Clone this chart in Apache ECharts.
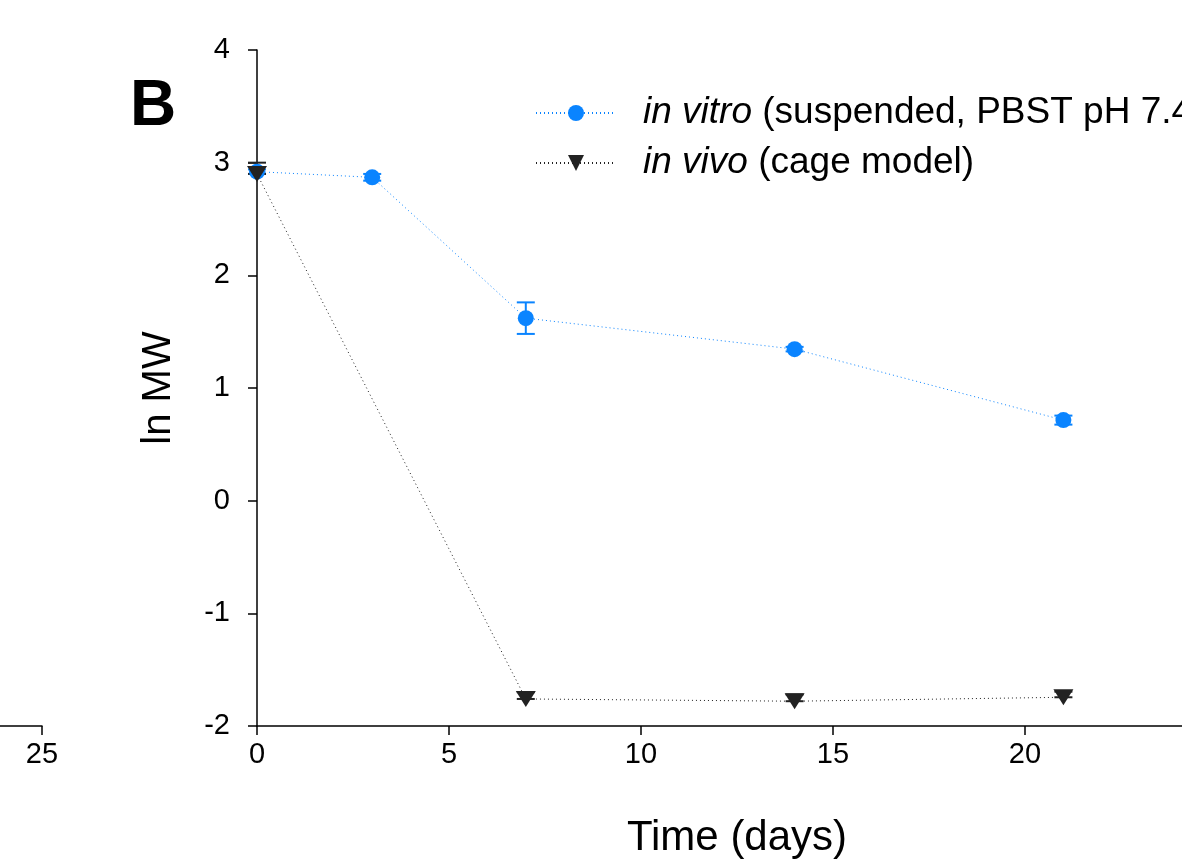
<!DOCTYPE html>
<html><head><meta charset="utf-8">
<script src="https://cdn.jsdelivr.net/npm/echarts@6/dist/echarts.min.js"></script>
<style>html,body{margin:0;padding:0;background:#fff}#c{width:1182px;height:864px}</style>
</head><body><div id="c"></div>
<script>
const vitroDays = [0, 3, 7, 14, 21];
const vitroMean = [2.92, 2.87, 1.62, 1.345, 0.715];
const vitroErrUp  = [0.02, 0.03, 0.14, 0.02, 0.04];
const vitroErrLo  = [0.02, 0.03, 0.14, 0.02, 0.04];
const vivoDays  = [0, 7, 14, 21];
const vivoMean  = [2.90, -1.76, -1.78, -1.745];
const vivoErrUp = [0.10, 0.06, 0.06, 0.05];
const vivoErrLo = [0.00, 0.00, 0.00, 0.00];
const xTicks = [0, 5, 10, 15, 20, 25];
const yTicks = [-2, -1, 0, 1, 2, 3, 4];

const BLUE = '#0a84ff', DARK = '#222222';
const FONT = "'Liberation Sans', Arial, sans-serif";

function pts(xs, ys){ return xs.map((x,i)=>[x, ys[i]]); }
function errs(xs, ys, up, lo){ return xs.map((x,i)=>[x, ys[i]-lo[i], ys[i]+up[i]]); }
function errRender(color){
  return function(params, api){
    const x = api.value(0), lo = api.value(1), hi = api.value(2);
    const a = api.coord([x, hi]), b = api.coord([x, lo]);
    const w = 9;
    const st = {stroke: color, lineWidth: 2};
    return {type:'group', children:[
      {type:'line', shape:{x1:a[0], y1:a[1], x2:b[0], y2:b[1]}, style:st},
      {type:'line', shape:{x1:a[0]-w, y1:a[1], x2:a[0]+w, y2:a[1]}, style:st},
      {type:'line', shape:{x1:b[0]-w, y1:b[1], x2:b[0]+w, y2:b[1]}, style:st}
    ]};
  };
}

const axisLineStyle = {color:'#000', width:1.5};
const chart = echarts.init(document.getElementById('c'));
chart.setOption({
  backgroundColor:'#fff',
  animation:false,
  textStyle:{fontFamily:FONT},
  graphic:[{type:'text', left:130, top:75, style:{text:'B', font:"bold 64px 'Liberation Sans', Arial", fill:'#000'}}],
  legend:{
    orient:'vertical', left:535, top:93, padding:0, itemWidth:80, itemHeight:20, itemGap:10,
    data:['vitro','vivo'],
    formatter: n => n==='vitro' ? '{p|}{i|in vitro} (suspended, PBST pH 7.4)' : '{p|}{i|in vivo} (cage model)',
    textStyle:{fontSize:37, color:'#000', fontFamily:FONT, lineHeight:40,
      rich:{p:{width:22}, i:{fontStyle:'italic', fontSize:37, fontFamily:FONT, color:'#000', lineHeight:40}}}
  },
  grid:[
    {left:257, top:50, width:960, height:676, outerBoundsMode:'none', containLabel:false},
    {left:-100, top:50, width:142, height:676, outerBoundsMode:'none', containLabel:false}
  ],
  xAxis:[
    {gridIndex:0, type:'value', min:xTicks[0], max:xTicks[xTicks.length-1], interval:5,
     axisLine:{onZero:false, lineStyle:axisLineStyle}, axisTick:{length:9, lineStyle:axisLineStyle},
     splitLine:{show:false},
     axisLabel:{fontSize:29, color:'#000', margin:14, fontFamily:FONT},
     name:'Time (days)', nameLocation:'middle', nameGap:91,
     nameTextStyle:{fontSize:42, color:'#000', fontFamily:FONT}},
    {gridIndex:1, type:'value', min:20, max:25, interval:5,
     axisLine:{onZero:false, lineStyle:axisLineStyle}, axisTick:{length:9, lineStyle:axisLineStyle},
     splitLine:{show:false},
     axisLabel:{fontSize:29, color:'#000', margin:14, fontFamily:FONT}}
  ],
  yAxis:[
    {gridIndex:0, type:'value', min:yTicks[0], max:yTicks[yTicks.length-1], interval:1,
     axisLine:{show:true, onZero:false, lineStyle:axisLineStyle}, axisTick:{show:true, length:9, lineStyle:axisLineStyle},
     splitLine:{show:false},
     axisLabel:{fontSize:29, color:'#000', margin:27, fontFamily:FONT},
     name:'ln MW', nameLocation:'middle', nameGap:78,
     nameTextStyle:{fontSize:40, color:'#000', fontFamily:FONT}},
    {gridIndex:1, type:'value', min:-2, max:4, show:false}
  ],
  series:[
    {type:'custom', xAxisIndex:0, yAxisIndex:0, renderItem:errRender(BLUE), data:errs(vitroDays, vitroMean, vitroErrUp, vitroErrLo), encode:{x:0, y:[1,2]}, z:1, silent:true},
    {type:'custom', xAxisIndex:0, yAxisIndex:0, renderItem:errRender(DARK), data:errs(vivoDays, vivoMean, vivoErrUp, vivoErrLo), encode:{x:0, y:[1,2]}, z:1, silent:true},
    {name:'vitro', type:'line', data:pts(vitroDays, vitroMean), symbol:'circle', symbolSize:16,
     lineStyle:{color:BLUE, width:1, type:[1,3]}, itemStyle:{color:BLUE}, z:3},
    {name:'vivo', type:'line', data:pts(vivoDays, vivoMean), symbol:'triangle', symbolRotate:180, symbolSize:[20,16],
     lineStyle:{color:DARK, width:1, type:[1,3]}, itemStyle:{color:DARK}, z:4}
  ]
});
</script></body></html>
